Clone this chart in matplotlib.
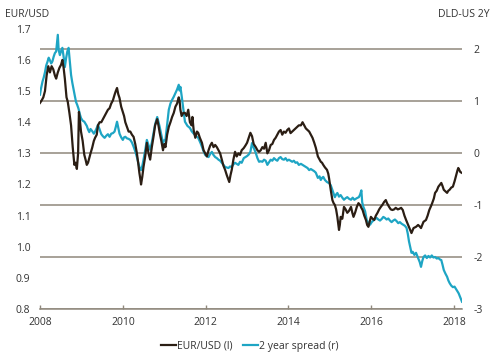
import matplotlib
matplotlib.use("Agg")
import matplotlib.pyplot as plt
from matplotlib.ticker import FuncFormatter

plt.rcParams["font.family"] = ["Open Sans", "DejaVu Sans"]
plt.rcParams["axes.unicode_minus"] = False

# EUR/USD (left axis)
eur_years = [
    2008.00, 2008.04, 2008.08, 2008.12, 2008.16, 2008.20, 2008.24, 2008.28, 2008.32, 2008.36,
    2008.39, 2008.43, 2008.47, 2008.51, 2008.54, 2008.57, 2008.60, 2008.64, 2008.67, 2008.71,
    2008.75, 2008.79, 2008.83, 2008.86, 2008.89, 2008.92, 2008.94, 2008.96, 2008.99, 2009.03,
    2009.07, 2009.10, 2009.13, 2009.16, 2009.19, 2009.22, 2009.26, 2009.30, 2009.33, 2009.37,
    2009.40, 2009.44, 2009.48, 2009.52, 2009.56, 2009.60, 2009.64, 2009.68, 2009.72, 2009.76,
    2009.80, 2009.83, 2009.86, 2009.89, 2009.92, 2009.96, 2010.00, 2010.03, 2010.06, 2010.10,
    2010.14, 2010.18, 2010.22, 2010.26, 2010.30, 2010.34, 2010.37, 2010.40, 2010.42, 2010.44,
    2010.47, 2010.50, 2010.54, 2010.58, 2010.62, 2010.66, 2010.70, 2010.74, 2010.78, 2010.83,
    2010.86, 2010.89, 2010.93, 2010.97, 2011.00, 2011.03, 2011.07, 2011.11, 2011.15, 2011.19,
    2011.23, 2011.27, 2011.31, 2011.35, 2011.37, 2011.39, 2011.42, 2011.46, 2011.50, 2011.54,
    2011.58, 2011.62, 2011.66, 2011.68, 2011.71, 2011.75, 2011.79, 2011.82, 2011.86, 2011.91,
    2011.95, 2011.99, 2012.03, 2012.07, 2012.11, 2012.15, 2012.19, 2012.23, 2012.27, 2012.31,
    2012.35, 2012.39, 2012.43, 2012.47, 2012.51, 2012.55, 2012.57, 2012.60, 2012.63, 2012.67,
    2012.71, 2012.75, 2012.79, 2012.83, 2012.87, 2012.92, 2012.96, 2013.00, 2013.04, 2013.08,
    2013.12, 2013.16, 2013.21, 2013.25, 2013.29, 2013.33, 2013.37, 2013.41, 2013.45, 2013.49,
    2013.53, 2013.57, 2013.61, 2013.65, 2013.69, 2013.73, 2013.77, 2013.81, 2013.85, 2013.89,
    2013.93, 2013.97, 2014.01, 2014.05, 2014.09, 2014.13, 2014.17, 2014.21, 2014.25, 2014.30,
    2014.34, 2014.38, 2014.42, 2014.46, 2014.50, 2014.54, 2014.58, 2014.62, 2014.66, 2014.71,
    2014.75, 2014.78, 2014.81, 2014.84, 2014.88, 2014.93, 2014.96, 2014.98, 2015.02, 2015.06,
    2015.09, 2015.12, 2015.15, 2015.18, 2015.20, 2015.22, 2015.24, 2015.26, 2015.30, 2015.34,
    2015.38, 2015.42, 2015.46, 2015.51, 2015.54, 2015.57, 2015.61, 2015.65, 2015.69, 2015.73,
    2015.76, 2015.79, 2015.83, 2015.87, 2015.90, 2015.93, 2015.96, 2015.99, 2016.03, 2016.07,
    2016.11, 2016.15, 2016.19, 2016.23, 2016.27, 2016.31, 2016.35, 2016.38, 2016.43, 2016.47,
    2016.51, 2016.55, 2016.59, 2016.64, 2016.68, 2016.72, 2016.76, 2016.80, 2016.84, 2016.89,
    2016.94, 2016.97, 2017.02, 2017.08, 2017.13, 2017.17, 2017.20, 2017.23, 2017.26, 2017.32,
    2017.36, 2017.40, 2017.44, 2017.47, 2017.51, 2017.54, 2017.58, 2017.62, 2017.66, 2017.69,
    2017.72, 2017.75, 2017.79, 2017.83, 2017.86, 2017.89, 2017.93, 2017.97, 2018.01, 2018.05,
    2018.08, 2018.10, 2018.13, 2018.15, 2018.19,
]
eur_values = [
    1.462, 1.470, 1.480, 1.500, 1.550, 1.580, 1.560, 1.580, 1.570, 1.550,
    1.540, 1.560, 1.575, 1.585, 1.600, 1.575, 1.540, 1.480, 1.466, 1.430,
    1.390, 1.320, 1.263, 1.270, 1.250, 1.300, 1.433, 1.410, 1.370, 1.340,
    1.295, 1.280, 1.263, 1.270, 1.285, 1.300, 1.318, 1.340, 1.350, 1.360,
    1.390, 1.400, 1.400, 1.410, 1.420, 1.430, 1.440, 1.445, 1.460, 1.470,
    1.488, 1.500, 1.510, 1.490, 1.478, 1.450, 1.433, 1.420, 1.400, 1.385,
    1.370, 1.370, 1.360, 1.353, 1.330, 1.300, 1.270, 1.237, 1.220, 1.200,
    1.225, 1.257, 1.290, 1.334, 1.300, 1.280, 1.320, 1.353, 1.390, 1.410,
    1.390, 1.366, 1.340, 1.310, 1.330, 1.320, 1.360, 1.385, 1.400, 1.417,
    1.430, 1.450, 1.460, 1.480, 1.470, 1.440, 1.420, 1.430, 1.430, 1.420,
    1.440, 1.400, 1.390, 1.417, 1.375, 1.350, 1.370, 1.366, 1.350, 1.334,
    1.310, 1.300, 1.290, 1.310, 1.325, 1.334, 1.320, 1.327, 1.320, 1.310,
    1.300, 1.280, 1.260, 1.247, 1.230, 1.215, 1.208, 1.230, 1.247, 1.280,
    1.305, 1.290, 1.300, 1.295, 1.310, 1.317, 1.325, 1.334, 1.350, 1.366,
    1.355, 1.330, 1.320, 1.310, 1.305, 1.310, 1.320, 1.315, 1.334, 1.300,
    1.310, 1.327, 1.330, 1.343, 1.350, 1.360, 1.370, 1.375, 1.360, 1.370,
    1.366, 1.375, 1.380, 1.365, 1.370, 1.375, 1.380, 1.385, 1.390, 1.390,
    1.400, 1.390, 1.380, 1.375, 1.370, 1.360, 1.350, 1.335, 1.318, 1.290,
    1.280, 1.273, 1.270, 1.263, 1.255, 1.247, 1.235, 1.220, 1.183, 1.150,
    1.140, 1.134, 1.120, 1.096, 1.075, 1.054, 1.070, 1.096, 1.090, 1.128,
    1.120, 1.109, 1.115, 1.128, 1.110, 1.096, 1.110, 1.128, 1.140, 1.134,
    1.125, 1.118, 1.100, 1.086, 1.070, 1.064, 1.080, 1.096, 1.090, 1.086,
    1.100, 1.109, 1.120, 1.128, 1.135, 1.144, 1.150, 1.140, 1.128, 1.120,
    1.118, 1.120, 1.125, 1.120, 1.122, 1.125, 1.118, 1.100, 1.086, 1.070,
    1.054, 1.044, 1.060, 1.064, 1.070, 1.065, 1.060, 1.070, 1.080, 1.086,
    1.100, 1.118, 1.130, 1.140, 1.155, 1.173, 1.180, 1.193, 1.200, 1.205,
    1.195, 1.183, 1.178, 1.173, 1.180, 1.183, 1.190, 1.193, 1.210, 1.230,
    1.245, 1.253, 1.245, 1.240, 1.237,
]

# DLD-US 2Y spread (right axis)
spread_years = [
    2008.00, 2008.02, 2008.04, 2008.06, 2008.09, 2008.12, 2008.15, 2008.18, 2008.21, 2008.24,
    2008.27, 2008.30, 2008.33, 2008.36, 2008.39, 2008.41, 2008.43, 2008.45, 2008.48, 2008.51,
    2008.54, 2008.57, 2008.60, 2008.63, 2008.66, 2008.69, 2008.72, 2008.75, 2008.78, 2008.81,
    2008.84, 2008.87, 2008.90, 2008.93, 2008.96, 2008.99, 2009.03, 2009.07, 2009.10, 2009.13,
    2009.16, 2009.19, 2009.22, 2009.26, 2009.30, 2009.33, 2009.37, 2009.40, 2009.44, 2009.48,
    2009.52, 2009.56, 2009.60, 2009.64, 2009.68, 2009.72, 2009.76, 2009.80, 2009.83, 2009.86,
    2009.89, 2009.92, 2009.96, 2010.00, 2010.03, 2010.06, 2010.10, 2010.14, 2010.18, 2010.22,
    2010.26, 2010.30, 2010.34, 2010.37, 2010.40, 2010.44, 2010.47, 2010.50, 2010.54, 2010.58,
    2010.62, 2010.66, 2010.70, 2010.74, 2010.78, 2010.83, 2010.86, 2010.89, 2010.93, 2010.97,
    2011.00, 2011.03, 2011.07, 2011.11, 2011.15, 2011.19, 2011.23, 2011.27, 2011.31, 2011.35,
    2011.37, 2011.39, 2011.42, 2011.46, 2011.50, 2011.56, 2011.62, 2011.66, 2011.70, 2011.76,
    2011.82, 2011.87, 2011.91, 2011.95, 2011.99, 2012.03, 2012.07, 2012.11, 2012.15, 2012.19,
    2012.23, 2012.27, 2012.31, 2012.35, 2012.39, 2012.43, 2012.47, 2012.51, 2012.55, 2012.59,
    2012.63, 2012.67, 2012.71, 2012.75, 2012.79, 2012.83, 2012.87, 2012.92, 2012.96, 2013.00,
    2013.04, 2013.08, 2013.12, 2013.16, 2013.21, 2013.25, 2013.29, 2013.33, 2013.37, 2013.41,
    2013.45, 2013.49, 2013.53, 2013.57, 2013.61, 2013.65, 2013.69, 2013.73, 2013.77, 2013.81,
    2013.85, 2013.89, 2013.93, 2013.97, 2014.01, 2014.05, 2014.09, 2014.13, 2014.17, 2014.21,
    2014.25, 2014.30, 2014.34, 2014.38, 2014.42, 2014.46, 2014.50, 2014.54, 2014.58, 2014.62,
    2014.66, 2014.71, 2014.75, 2014.78, 2014.81, 2014.84, 2014.88, 2014.93, 2014.98, 2015.02,
    2015.06, 2015.09, 2015.12, 2015.15, 2015.18, 2015.22, 2015.26, 2015.30, 2015.34, 2015.38,
    2015.42, 2015.46, 2015.51, 2015.55, 2015.59, 2015.65, 2015.70, 2015.73, 2015.76, 2015.78,
    2015.81, 2015.85, 2015.89, 2015.93, 2015.97, 2016.01, 2016.05, 2016.09, 2016.13, 2016.17,
    2016.21, 2016.25, 2016.29, 2016.33, 2016.37, 2016.41, 2016.45, 2016.49, 2016.53, 2016.57,
    2016.61, 2016.65, 2016.69, 2016.73, 2016.77, 2016.81, 2016.85, 2016.88, 2016.91, 2016.94,
    2016.97, 2017.00, 2017.04, 2017.08, 2017.13, 2017.17, 2017.20, 2017.23, 2017.26, 2017.30,
    2017.34, 2017.38, 2017.42, 2017.46, 2017.50, 2017.54, 2017.58, 2017.62, 2017.66, 2017.69,
    2017.72, 2017.75, 2017.79, 2017.83, 2017.86, 2017.89, 2017.93, 2017.97, 2018.01, 2018.05,
    2018.08, 2018.11, 2018.15, 2018.19,
]
spread_values = [
    1.12, 1.22, 1.30, 1.37, 1.45, 1.55, 1.68, 1.75, 1.83, 1.78,
    1.72, 1.76, 1.85, 1.92, 1.95, 2.10, 2.27, 1.98, 1.88, 1.96,
    2.02, 1.85, 1.65, 1.82, 1.95, 2.02, 1.75, 1.50, 1.35, 1.22,
    1.10, 0.98, 0.92, 0.85, 0.75, 0.67, 0.62, 0.60, 0.56, 0.52,
    0.45, 0.40, 0.46, 0.42, 0.37, 0.41, 0.48, 0.54, 0.45, 0.36,
    0.32, 0.29, 0.33, 0.36, 0.31, 0.37, 0.38, 0.41, 0.50, 0.60,
    0.48, 0.37, 0.30, 0.25, 0.30, 0.31, 0.28, 0.27, 0.25, 0.20,
    0.12, 0.03, -0.08, -0.18, -0.27, -0.33, -0.25, -0.13, 0.05, 0.25,
    0.15, 0.06, 0.20, 0.38, 0.55, 0.69, 0.60, 0.50, 0.35, 0.19,
    0.24, 0.26, 0.55, 0.83, 0.95, 1.02, 1.08, 1.15, 1.22, 1.31,
    1.20, 1.27, 1.10, 0.85, 0.60, 0.52, 0.48, 0.42, 0.38, 0.33,
    0.29, 0.20, 0.12, 0.03, -0.04, -0.06, -0.08, -0.02, 0.02, -0.04,
    -0.08, -0.10, -0.13, -0.15, -0.19, -0.23, -0.27, -0.28, -0.29, -0.26,
    -0.27, -0.22, -0.19, -0.21, -0.23, -0.17, -0.19, -0.10, -0.08, -0.06,
    -0.03, 0.02, 0.19, 0.10, 0.00, -0.10, -0.17, -0.16, -0.17, -0.13,
    -0.15, -0.23, -0.18, -0.13, -0.15, -0.10, -0.13, -0.15, -0.10, -0.08,
    -0.12, -0.13, -0.10, -0.15, -0.13, -0.15, -0.17, -0.15, -0.19, -0.18,
    -0.23, -0.21, -0.23, -0.25, -0.27, -0.29, -0.33, -0.31, -0.33, -0.35,
    -0.38, -0.48, -0.45, -0.52, -0.48, -0.46, -0.52, -0.56, -0.58, -0.62,
    -0.71, -0.78, -0.85, -0.80, -0.77, -0.84, -0.81, -0.86, -0.90, -0.87,
    -0.85, -0.88, -0.90, -0.86, -0.90, -0.87, -0.85, -0.80, -0.72, -0.95,
    -1.04, -1.12, -1.29, -1.35, -1.38, -1.33, -1.30, -1.27, -1.25, -1.28,
    -1.30, -1.27, -1.23, -1.25, -1.28, -1.26, -1.30, -1.33, -1.30, -1.28,
    -1.31, -1.35, -1.33, -1.36, -1.38, -1.40, -1.44, -1.55, -1.70, -1.81,
    -1.92, -1.90, -1.96, -1.92, -2.02, -2.10, -2.19, -2.08, -2.00, -1.97,
    -2.02, -1.98, -2.01, -1.97, -2.01, -2.00, -2.03, -2.02, -2.05, -2.06,
    -2.15, -2.25, -2.32, -2.38, -2.45, -2.50, -2.55, -2.58, -2.57, -2.62,
    -2.66, -2.70, -2.78, -2.86,
]

left_ticks = [0.8, 0.9, 1.0, 1.1, 1.2, 1.3, 1.4, 1.5, 1.6, 1.7]
right_ticks = [-3, -2, -1, 0, 1, 2]
year_ticks = [2008, 2010, 2012, 2014, 2016, 2018]

DARK = "#2b1e14"
CYAN = "#1ea5c4"
GRID = "#8f887c"
TEXT = "#333333"

fig = plt.figure(figsize=(5.0, 3.56), dpi=100)
ax = fig.add_axes([0.08, 0.132, 0.844, 0.787])
ax2 = ax.twinx()

l1, = ax.plot(eur_years, eur_values, color=DARK, lw=1.6, label="EUR/USD (l)")
l2, = ax2.plot(spread_years, spread_values, color=CYAN, lw=1.6, label="2 year spread (r)")

ax.set_xlim(2008, 2018.19)
ax.set_ylim(0.8, 1.7)
ax2.set_ylim(-3, 2.385)

ax.set_yticks(left_ticks)
ax.yaxis.set_major_formatter(FuncFormatter(lambda v, p: f"{v:.1f}"))
ax2.set_yticks(right_ticks)
ax2.yaxis.set_major_formatter(FuncFormatter(lambda v, p: f"{v:.0f}"))
ax.set_xticks(year_ticks)
ax.xaxis.set_major_formatter(FuncFormatter(lambda v, p: f"{v:.0f}"))

# horizontal lines follow the right-hand scale
ax2.yaxis.grid(True, color=GRID, lw=1.1)
ax2.set_axisbelow(True)
ax.set_zorder(ax2.get_zorder() + 1)
ax.patch.set_visible(False)

for a in (ax, ax2):
    for s in a.spines.values():
        s.set_visible(False)
ax.spines["bottom"].set_visible(True)
ax.spines["bottom"].set_color(GRID)
ax.spines["bottom"].set_linewidth(1.1)

ax.tick_params(axis="y", length=0, pad=7, labelsize=7.5, labelcolor=TEXT)
ax2.tick_params(axis="y", length=0, pad=8, labelsize=7.5, labelcolor=TEXT)
ax.tick_params(axis="x", direction="in", length=3, width=1, color=GRID, pad=6,
               labelsize=7.5, labelcolor=TEXT)

fig.text(0.01, 0.975, "EUR/USD", ha="left", va="top", fontsize=7.5, color=TEXT)
fig.text(0.98, 0.975, "DLD-US 2Y", ha="right", va="top", fontsize=7.5, color=TEXT)

fig.legend(handles=[l1, l2], loc="lower center", bbox_to_anchor=(0.5, -0.015), ncol=2,
           frameon=False, fontsize=7.5, handlelength=1.4, handletextpad=0.15,
           columnspacing=1.0, labelcolor=TEXT)

fig.savefig("out.png", dpi=100)
